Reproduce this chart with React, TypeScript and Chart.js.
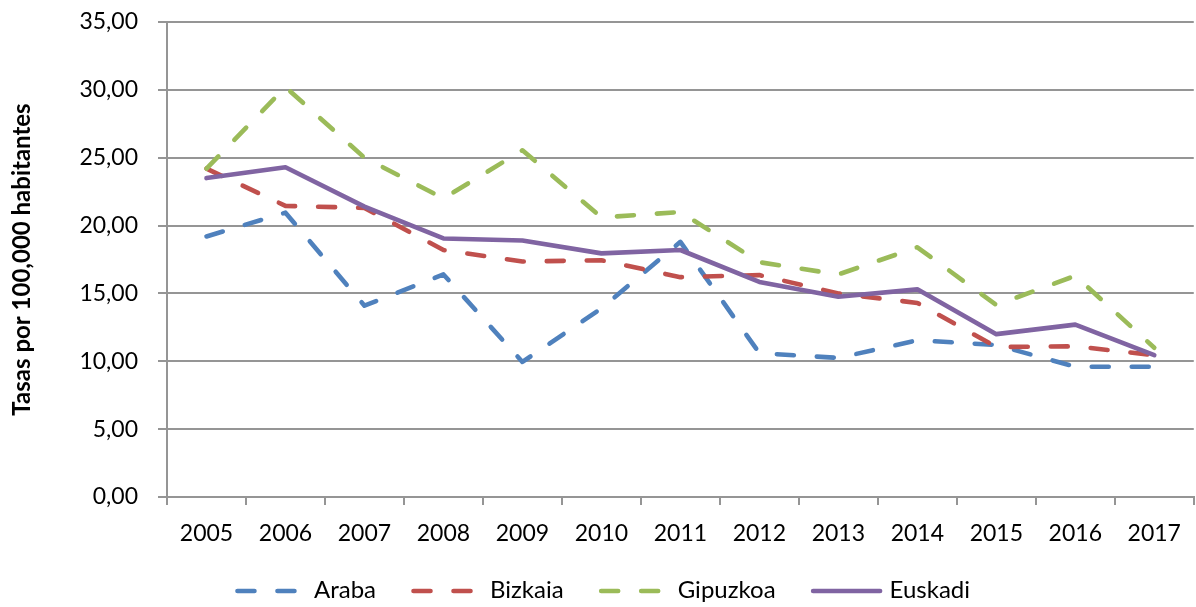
import React, { useEffect, useRef } from "react";
import { Chart, registerables } from "chart.js";

Chart.register(...registerables);

const years = ["2005", "2006", "2007", "2008", "2009", "2010", "2011", "2012", "2013", "2014", "2015", "2016", "2017"];
const araba = [19.2, 20.95, 14.1, 16.4, 9.95, 13.9, 18.8, 10.6, 10.25, 11.55, 11.2, 9.6, 9.6];
const bizkaia = [24.2, 21.45, 21.3, 18.2, 17.35, 17.45, 16.2, 16.35, 15.0, 14.3, 11.05, 11.1, 10.45];
const gipuzkoa = [24.2, 30.2, 25.0, 22.0, 25.55, 20.6, 21.0, 17.3, 16.4, 18.4, 14.15, 16.3, 11.0];
const euskadi = [23.5, 24.3, 21.4, 19.05, 18.9, 17.95, 18.2, 15.85, 14.75, 15.3, 12.0, 12.7, 10.45];
const seriesNames = ["Araba", "Bizkaia", "Gipuzkoa", "Euskadi"];
const seriesColors = ["#4F81BD", "#C0504D", "#9BBB59", "#8064A2"];
const seriesDashed = [true, true, true, false];
const yTitle = "Tasas por 100,000 habitantes";

const FONT = "Lato, 'Open Sans', sans-serif";
const GRID = "#959595";
const DASH = [17, 23];
const LW = 4.6;

const legendPlugin = {
  id: "customLegend",
  afterDraw(chart: any) {
    const ctx = chart.ctx as CanvasRenderingContext2D;
    ctx.save();
    ctx.font = `24px ${FONT}`;
    const lineSpan = 79;
    const gap = 35;
    const widths = seriesNames.map((n) => ctx.measureText(n).width);
    const total = widths.reduce((a, w) => a + lineSpan + w, 0) + gap * (seriesNames.length - 1);
    const centerX = chart.width / 2 + 4.5;
    let x = centerX - total / 2;
    const lineY = 591;
    const textY = 598;
    seriesNames.forEach((name, i) => {
      ctx.beginPath();
      ctx.strokeStyle = seriesColors[i];
      ctx.lineWidth = LW;
      ctx.lineCap = "round";
      ctx.setLineDash(seriesDashed[i] ? DASH : []);
      ctx.moveTo(x + 2.5, lineY);
      ctx.lineTo(x + 69.5, lineY);
      ctx.stroke();
      ctx.setLineDash([]);
      ctx.fillStyle = "#000";
      ctx.textAlign = "left";
      ctx.textBaseline = "alphabetic";
      ctx.fillText(name, x + lineSpan, textY);
      x += lineSpan + widths[i] + gap;
    });
    ctx.restore();
  },
};

export default function App() {
  const ref = useRef<HTMLCanvasElement | null>(null);

  useEffect(() => {
    if (!ref.current) return;
    const values = [araba, bizkaia, gipuzkoa, euskadi];
    const datasets = seriesNames.map((label, i) => ({
      label,
      data: values[i],
      borderColor: seriesColors[i],
      backgroundColor: seriesColors[i],
      borderWidth: LW,
      borderDash: seriesDashed[i] ? DASH : [],
      borderCapStyle: "round" as const,
      borderJoinStyle: "round" as const,
      pointRadius: 0,
      pointHoverRadius: 0,
      tension: 0,
      fill: false,
      order: seriesNames.length - i,
    }));
    const chart = new Chart(ref.current, {
      type: "line",
      data: { labels: years, datasets },
      options: {
        responsive: false,
        animation: false,
        devicePixelRatio: 1,
        layout: { padding: { left: 0, right: 1, top: 0, bottom: 60 } },
        scales: {
          x: {
            offset: true,
            afterFit: (scale: any) => {
              scale.height = 50;
            },
            grid: {
              display: true,
              drawOnChartArea: false,
              drawTicks: true,
              tickLength: 8,
              offset: true,
              color: GRID,
              lineWidth: 2,
            },
            border: { display: true, color: GRID, width: 2 },
            ticks: {
              color: "#000",
              font: { family: FONT, size: 23 },
              padding: 15,
              maxRotation: 0,
              autoSkip: false,
            },
          },
          y: {
            min: 0,
            max: 35,
            afterFit: (scale: any) => {
              scale.width = 167;
              scale.paddingTop = 22;
              scale.paddingBottom = 0;
            },
            grid: {
              color: GRID,
              lineWidth: 2,
              drawTicks: true,
              tickLength: 9,
            },
            border: { display: true, color: GRID, width: 2 },
            ticks: {
              stepSize: 5,
              color: "#000",
              font: { family: FONT, size: 23 },
              padding: 20,
              callback: (v: any) => Number(v).toFixed(2).replace(".", ","),
            },
            title: {
              display: true,
              text: yTitle,
              color: "#000",
              font: { family: FONT, size: 24, weight: "bold" },
              padding: { top: 8, bottom: 0 },
            },
          },
        },
        plugins: {
          tooltip: { enabled: false },
          legend: { display: false },
        },
      },
      plugins: [legendPlugin],
    });
    return () => chart.destroy();
  }, []);

  return (
    <div style={{ position: "absolute", left: 0, top: 0, width: 1196, height: 607, background: "#fff" }}>
      <canvas ref={ref} width={1196} height={607} style={{ display: "block" }} />
    </div>
  );
}
